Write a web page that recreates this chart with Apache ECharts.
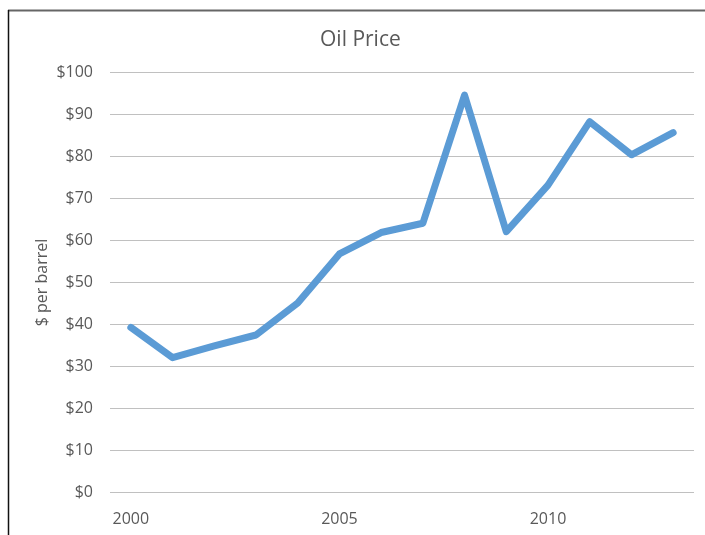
<!DOCTYPE html>
<html>
<head>
<meta charset="utf-8">
<script src="https://cdn.jsdelivr.net/npm/echarts@6/dist/echarts.min.js"></script>
<style>
  html, body { margin: 0; padding: 0; background: #fff; }
  #chart { width: 705px; height: 535px; }
</style>
</head>
<body>
<div id="chart"></div>
<script>
var years = ["2000", "2001", "2002", "2003", "2004", "2005", "2006",
  "2007", "2008", "2009", "2010", "2011", "2012", "2013"];
var prices = [39.3, 32.1, 34.9, 37.5, 45.1, 56.8, 61.9, 64.1, 94.6, 62.1, 73.2, 88.3, 80.4, 85.7];
var yMin = 0, yMax = 100, yStep = 10;

var textColor = "#595959";
var font = "Open Sans";

var myChart = echarts.init(document.getElementById("chart"));
var option = {
  backgroundColor: "#fff",
  animation: false,
  title: {
    text: "Oil Price",
    left: 315,
    top: 25,
    textStyle: {
      color: textColor,
      fontFamily: font,
      fontSize: 21,
      fontWeight: "normal"
    }
  },
  grid: {
    left: 110,
    right: 11,
    top: 72.5,
    bottom: 42.5
  },
  xAxis: {
    type: "category",
    boundaryGap: true,
    data: years,
    axisLine: { show: false },
    axisTick: { show: false },
    axisLabel: {
      interval: 4,
      margin: 19,
      color: textColor,
      fontFamily: font,
      fontSize: 16
    }
  },
  yAxis: {
    type: "value",
    min: yMin,
    max: yMax,
    interval: yStep,
    name: "$ per barrel",
    nameLocation: "middle",
    nameGap: 60,
    nameMoveOverlap: false,
    nameTextStyle: {
      color: textColor,
      fontFamily: font,
      fontSize: 16
    },
    axisLine: { show: false },
    axisTick: { show: false },
    axisLabel: {
      margin: 17,
      color: textColor,
      fontFamily: font,
      fontSize: 16,
      formatter: function (v) { return "$" + v; }
    },
    splitLine: {
      lineStyle: { color: "#c0c0c0", width: 1 }
    }
  },
  graphic: [
    {
      type: "line",
      shape: { x1: 8, y1: 10.5, x2: 705, y2: 10.5 },
      style: { stroke: "#666", lineWidth: 2 }
    },
    {
      type: "line",
      shape: { x1: 8.5, y1: 10, x2: 8.5, y2: 535 },
      style: { stroke: "#111", lineWidth: 1.5 }
    }
  ],
  series: [
    {
      type: "line",
      data: prices,
      symbol: "none",
      lineStyle: {
        color: "#5b9bd5",
        width: 7,
        cap: "round",
        join: "round"
      }
    }
  ]
};
myChart.setOption(option);
</script>
</body>
</html>
